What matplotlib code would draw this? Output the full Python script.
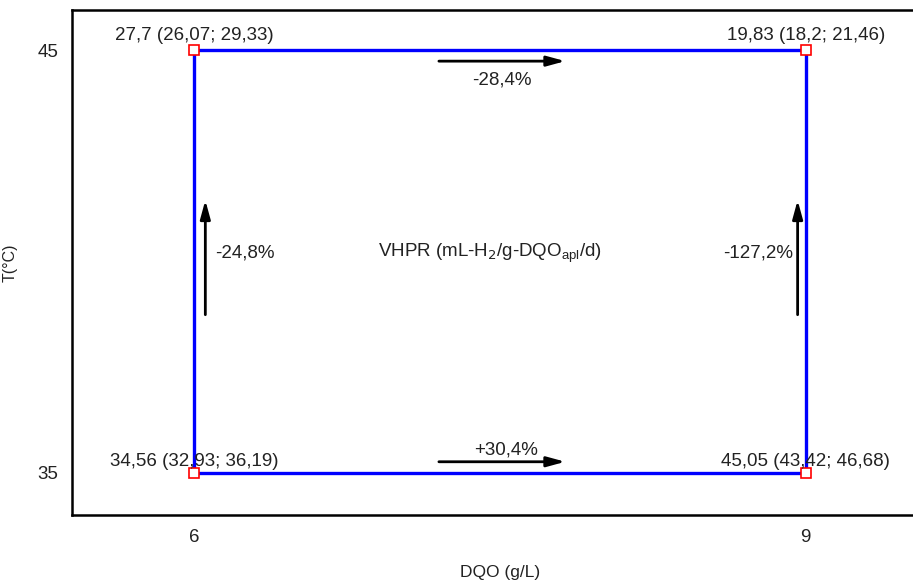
import numpy as np
import matplotlib.pyplot as plt

plt.rcParams['font.family'] = ['Liberation Sans', 'DejaVu Sans']

# corner points of the design: DQO (g/L) x T (°C)
dqo = [6, 9, 9, 6]
temp = [45, 45, 35, 35]
vhpr = ['27,7', '19,83', '45,05', '34,56']
ci_low = ['26,07', '18,2', '43,42', '32,93']
ci_high = ['29,33', '21,46', '46,68', '36,19']

# effect labels: top, bottom, left, right
effects = ['-28,4%', '+30,4%', '-24,8%', '-127,2%']

fs = 13.5
tc = '#222222'

fig = plt.figure(figsize=(9.13, 5.82), dpi=100)
ax = fig.add_axes([0.0789, 0.1151, 0.9376, 0.8677])
ax.set_xlim(5.4, 9.6)
ax.set_ylim(34, 45.95)

# rectangle linking the four corners
xs = dqo + [dqo[0]]
ys = temp + [temp[0]]
ax.plot(xs, ys, color='#0000ff', lw=2.4, zorder=2)
ax.plot(dqo, temp, ls='none', marker='s', ms=7.5, mfc='white', mec='red', mew=1.2, zorder=3)

for x, y, v, lo, hi in zip(dqo, temp, vhpr, ci_low, ci_high):
    off = 10.5 if y == 45 else 8
    ax.annotate(f'{v} ({lo}; {hi})', (x, y), xytext=(0, off), textcoords='offset points',
                ha='center', va='center', fontsize=fs, color=tc)

arrow = dict(arrowstyle='-|>,head_length=1.1,head_width=0.3', color='black', lw=2,
             shrinkA=0, shrinkB=0)
# horizontal arrows (effect of DQO)
ax.annotate('', xy=(7.82, 44.74), xytext=(7.2, 44.74), arrowprops=arrow)
ax.annotate('', xy=(7.82, 35.26), xytext=(7.2, 35.26), arrowprops=arrow)
# vertical arrows (effect of T)
ax.annotate('', xy=(6.054, 41.45), xytext=(6.054, 38.74), arrowprops=arrow)
ax.annotate('', xy=(8.96, 41.45), xytext=(8.96, 38.74), arrowprops=arrow)

ax.text(7.51, 44.3, effects[0], ha='center', va='center', fontsize=fs, color=tc)
ax.text(7.53, 35.55, effects[1], ha='center', va='center', fontsize=fs, color=tc)
ax.text(6.1, 40.2, effects[2], ha='left', va='center', fontsize=fs, color=tc)
ax.text(8.94, 40.2, effects[3], ha='right', va='center', fontsize=fs, color=tc)
ax.text(7.45, 40.2, r'VHPR (mL-H$_2$/g-DQO$_{\mathregular{apl}}$/d)', ha='center', va='center',
        fontsize=fs, color=tc)

ax.set_xticks([6, 9])
ax.set_yticks([35, 45])
ax.tick_params(length=0, labelsize=fs, labelcolor=tc, pad=10)
ax.set_xlabel('DQO (g/L)', fontsize=12.5, color=tc, labelpad=14)
ax.set_ylabel('T(°C)', fontsize=11.5, color=tc)
ax.yaxis.set_label_coords(-0.063, 0.5)
for s in ax.spines.values():
    s.set_linewidth(1.8)
    s.set_color('black')

fig.savefig('out.png', dpi=100)
